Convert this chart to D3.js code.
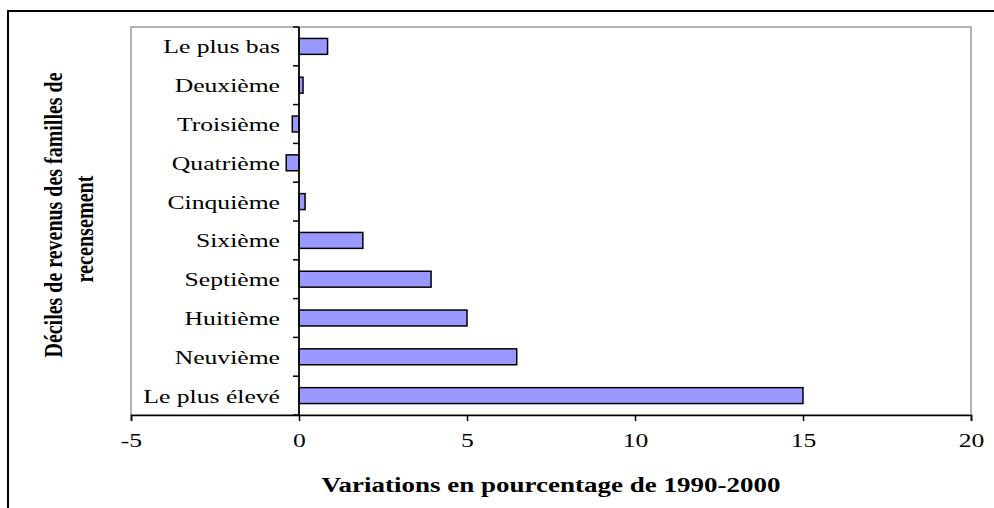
<!DOCTYPE html>
<html>
<head>
<meta charset="utf-8">
<script src="https://cdn.jsdelivr.net/npm/d3@7"></script>
<style>
  body { margin: 0; background: #fff; }
  svg { display: block; }
  text { font-family: "Liberation Serif", "Times New Roman", serif; fill: #000; }
</style>
</head>
<body>
<svg id="chart" width="994" height="508"></svg>
<script>
// data
const categories = ["Le plus bas", "Deuxième", "Troisième", "Quatrième", "Cinquième",
                    "Sixième", "Septième", "Huitième", "Neuvième", "Le plus élevé"];
const values = [0.85, 0.12, -0.2, -0.38, 0.18, 1.9, 3.93, 5.0, 6.48, 15.0];
const xTicks = [-5, 0, 5, 10, 15, 20];
const xTitle = "Variations en pourcentage de 1990-2000";
const yTitle = ["Déciles de revenus des familles de", "recensement"];

const svg = d3.select("#chart");
const plot = { left: 131, right: 971, top: 27, bottom: 415 };
const sx = 1.35; // the original picture is stretched sideways

let xScale = d3.scaleLinear().domain([-5, 20]).range([plot.left, plot.right]);
let yScale = d3.scaleBand().domain(categories).range([plot.top, plot.bottom]).padding(0);
const barH = yScale.bandwidth() * 0.41;

// outer frame (runs off the right and bottom)
svg.append("rect")
  .attr("x", 8).attr("y", 11)
  .attr("width", 1000).attr("height", 520)
  .attr("fill", "none").attr("stroke", "#000").attr("stroke-width", 2);

// plot area border
svg.append("rect")
  .attr("x", plot.left).attr("y", plot.top)
  .attr("width", plot.right - plot.left).attr("height", plot.bottom - plot.top)
  .attr("fill", "#fff").attr("stroke", "#999").attr("stroke-width", 1.5);

// bars
svg.selectAll("rect.bar")
  .data(values)
  .join("rect")
  .attr("class", "bar")
  .attr("x", d => xScale(Math.min(0, d)))
  .attr("y", (d, i) => yScale(categories[i]) + (yScale.bandwidth() - barH) / 2)
  .attr("width", d => Math.abs(xScale(d) - xScale(0)))
  .attr("height", barH)
  .attr("fill", "#9999ff")
  .attr("stroke", "#000")
  .attr("stroke-width", 1.5);

// x axis
let xAxis = svg.append("g")
  .attr("transform", `translate(0,${plot.bottom})`)
  .call(d3.axisBottom(xScale).tickValues(xTicks).tickSize(6).tickFormat(d3.format("d")));
xAxis.select(".domain").attr("stroke", "#000").attr("stroke-width", 1.5);
xAxis.selectAll(".tick line").attr("stroke", "#000").attr("stroke-width", 1.5);
xAxis.selectAll(".tick text")
  .attr("y", 0).attr("dy", 0)
  .attr("transform", `translate(0,32) scale(${sx},1)`)
  .style("font-size", "19px")
  .text(d => d < 0 ? "-" + Math.abs(d) : d);

// zero axis with ticks on band boundaries
const zx = xScale(0);
svg.append("line")
  .attr("x1", zx).attr("x2", zx)
  .attr("y1", plot.top).attr("y2", plot.bottom)
  .attr("stroke", "#000").attr("stroke-width", 1.8);
const bounds = categories.map(c => yScale(c)).concat([plot.bottom]);
svg.selectAll("line.ytick")
  .data(bounds)
  .join("line")
  .attr("class", "ytick")
  .attr("x1", zx - 6).attr("x2", zx)
  .attr("y1", d => d).attr("y2", d => d)
  .attr("stroke", "#000").attr("stroke-width", 1.5);

// category labels
svg.selectAll("text.cat")
  .data(categories)
  .join("text")
  .attr("class", "cat")
  .attr("text-anchor", "end")
  .attr("transform", d => `translate(280,${yScale(d) + yScale.bandwidth() / 2 + 7}) scale(${sx},1)`)
  .style("font-size", "19px")
  .text(d => d);

// axis titles
svg.append("text")
  .attr("text-anchor", "middle")
  .attr("transform", `translate(${(plot.left + plot.right) / 2},492) scale(${sx},1)`)
  .style("font-size", "20px").style("font-weight", "bold")
  .text(xTitle);

const yt = [{ x: 62, y: 215, len: 285 }, { x: 93, y: 229, len: 107 }];
yTitle.forEach((t, i) => {
  svg.append("text")
    .attr("text-anchor", "middle")
    .attr("transform", `translate(${yt[i].x},${yt[i].y}) scale(1.25,1) rotate(-90)`)
    .attr("textLength", yt[i].len)
    .attr("lengthAdjust", "spacingAndGlyphs")
    .style("font-size", "20px").style("font-weight", "bold")
    .text(t);
});
</script>
</body>
</html>
